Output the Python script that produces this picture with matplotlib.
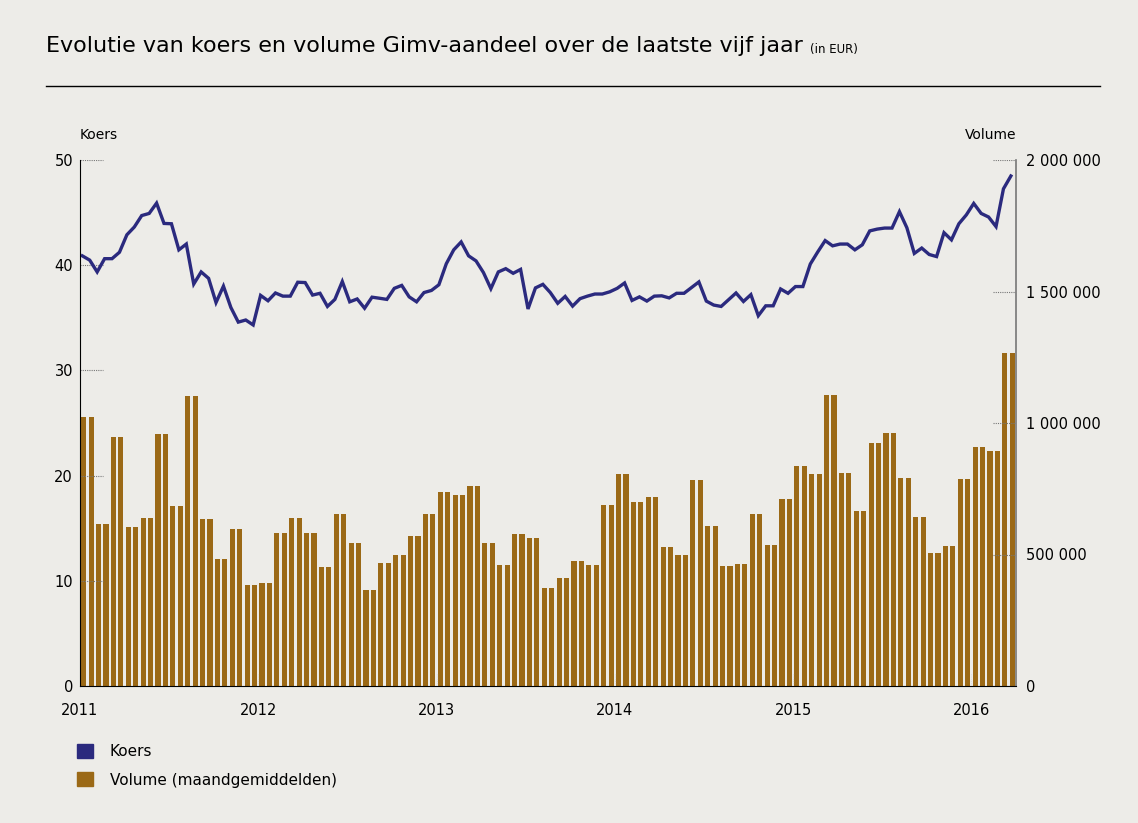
import numpy as np
import matplotlib
matplotlib.use("Agg")
import matplotlib.pyplot as plt
from matplotlib.patches import Patch
from matplotlib.lines import Line2D

plt.rcParams['font.family'] = ['DejaVu Sans']

# maandgemiddelden volume, jan 2011 - maart 2016
volume = [1022000, 616000, 946000, 604000, 640000, 958000, 684000, 1102000, 636000, 484000, 598000, 385000,
          393000, 583000, 640000, 583000, 452000, 654000, 545000, 366000, 469000, 499000, 570000, 654000,
          737000, 726000, 760000, 545000, 461000, 578000, 564000, 374000, 412000, 476000, 461000, 688000,
          806000, 699000, 718000, 528000, 499000, 783000, 608000, 457000, 465000, 654000, 536000, 711000,
          836000, 806000, 1106000, 810000, 665000, 924000, 962000, 791000, 642000, 507000, 532000, 787000,
          908000, 893000, 1266000]

# koers, twee waarden per maand
koers = [40.89, 40.48, 39.36, 40.62, 40.62, 41.23, 42.89, 43.63, 44.72, 44.92, 45.90, 43.97,
         43.94, 41.46, 42.01, 38.21, 39.36, 38.75, 36.45, 38.01, 35.98, 34.59, 34.79, 34.32,
         37.13, 36.62, 37.36, 37.06, 37.06, 38.38, 38.35, 37.16, 37.33, 36.08, 36.75, 38.45,
         36.52, 36.79, 35.91, 36.96, 36.86, 36.75,
         37.80, 38.08, 36.99, 36.52, 37.40, 37.60, 38.14, 40.14, 41.46, 42.21, 40.89, 40.41,
         39.30, 37.77, 39.36, 39.67, 39.23, 39.60, 35.84, 37.84, 38.18, 37.40, 36.38, 37.03,
         36.11, 36.82, 37.06, 37.26, 37.26, 37.47, 37.80, 38.31, 36.65, 36.99, 36.59, 37.06,
         37.09, 36.89, 37.33, 37.33, 37.87, 38.41,
         36.59, 36.21, 36.08, 36.72, 37.36, 36.55, 37.20, 35.20, 36.14, 36.14, 37.74, 37.33,
         37.97, 37.97, 40.11, 41.26, 42.34, 41.84, 42.01, 42.01, 41.46, 41.94, 43.26, 43.43,
         43.53, 43.53, 45.09, 43.56, 41.12, 41.63, 41.02, 40.82, 43.09, 42.41, 43.94, 44.78,
         45.87, 44.92, 44.58, 43.67, 47.26, 48.48]

jaren = ['2011', '2012', '2013', '2014', '2015', '2016']
koers_ticks = [0, 10, 20, 30, 40, 50]
volume_ticks = [0, 500000, 1000000, 1500000, 2000000]
volume_labels = ['0', '500 000', '1 000 000', '1 500 000', '2 000 000']

bg = '#edece8'
blauw = '#2b2a7e'
bruin = '#9b6916'

fig = plt.figure(figsize=(11.38, 8.23), dpi=100, facecolor=bg)
ax1 = fig.add_axes([80/1138, 1-686/823, 936/1138, 526/823])
ax2 = ax1.twinx()
ax1.set_zorder(ax2.get_zorder() + 1)
ax1.patch.set_visible(False)
ax2.set_facecolor(bg)

# volume: elke maand als twee staafjes
n = len(volume)
maanden = np.arange(n)
vol2 = np.repeat(volume, 2)
xpos = np.concatenate([[m + 0.25, m + 0.75] for m in maanden])
ax2.bar(xpos, vol2, width=0.34, color=bruin, linewidth=0)

tk = np.arange(len(koers)) * 0.5 + 0.155
ax1.plot(tk, koers, color=blauw, lw=2.4, solid_joinstyle='miter')

ax1.set_xlim(0, n)
ax1.set_ylim(0, 50)
ax2.set_ylim(0, 2000000)

ax1.set_yticks(koers_ticks)
ax1.set_yticklabels([str(t) for t in koers_ticks])
ax2.set_yticks(volume_ticks)
ax2.set_yticklabels(volume_labels)
ax1.set_xticks(np.arange(len(jaren)) * 12)
ax1.set_xticklabels(jaren)

ax1.tick_params(axis='y', length=0, pad=5, labelsize=10.5)
ax2.tick_params(axis='y', length=0, pad=7, labelsize=10.5)
ax1.tick_params(axis='x', length=0, pad=12, labelsize=10.5)

# gestippelde tickmarkeringen
ax1.hlines(koers_ticks, 0, 0.025, transform=ax1.get_yaxis_transform(),
           colors='#777777', linestyles=(0, (1, 1)), linewidth=0.8, zorder=0)
ax2.hlines(volume_ticks, 0.975, 1.0, transform=ax2.get_yaxis_transform(),
           colors='#777777', linestyles=(0, (1, 1)), linewidth=0.8)
ax1.vlines(np.arange(1, len(jaren)) * 12, 0, 0.025, transform=ax1.get_xaxis_transform(),
           colors='#dddddd', linestyles=(0, (1, 1)), linewidth=0.8, zorder=3)

for ax in (ax1, ax2):
    ax.spines['top'].set_visible(False)
ax1.spines['right'].set_visible(False)
ax2.spines['left'].set_visible(False)
ax2.spines['bottom'].set_visible(False)
ax1.spines['left'].set_color('black')
ax1.spines['bottom'].set_color('black')
ax2.spines['right'].set_color('#777777')
ax2.spines['right'].set_linewidth(1.2)

fig.text(80/1138, 1-135/823, 'Koers', fontsize=10, va='center', ha='left')
fig.text(1016/1138, 1-135/823, 'Volume', fontsize=10, va='center', ha='right')

titel = fig.text(46/1138, 1-46/823, 'Evolutie van koers en volume Gimv-aandeel over de laatste vijf jaar',
                 fontsize=16, va='center', ha='left')
fig.canvas.draw()
bb = titel.get_window_extent()
fig.text((bb.x1 + 7)/1138, 1-49/823, '(in EUR)', fontsize=8.5, va='center', ha='left')

fig.add_artist(Line2D([46/1138, 1100/1138], [1-86/823, 1-86/823], color='black', lw=1))

handles = [Patch(color=blauw), Patch(color=bruin)]
fig.legend(handles, ['Koers', 'Volume (maandgemiddelden)'], loc='upper left',
           bbox_to_anchor=(77/1138, 1-744/823), frameon=False, fontsize=11,
           handlelength=1.05, handleheight=1.05, handletextpad=1.1, labelspacing=0.85,
           borderpad=0, borderaxespad=0)

fig.savefig('out.png', dpi=100, facecolor=bg)
